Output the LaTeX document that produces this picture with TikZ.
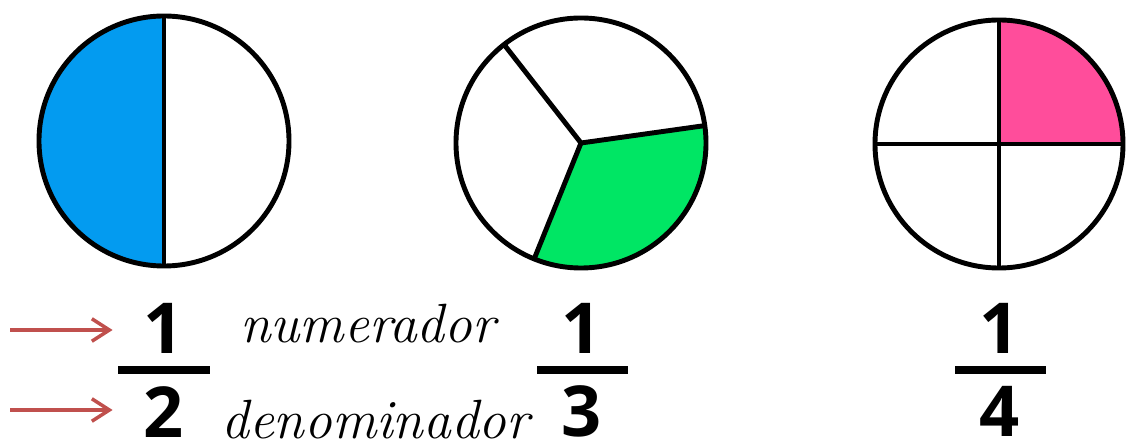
\documentclass[tikz,border=0pt]{standalone}
\usepackage{fontspec}
\newfontfamily\digitfont{Open Sans}
\usetikzlibrary{positioning,arrows.meta}
\definecolor{halfblue}{RGB}{3,155,240}
\definecolor{thirdgreen}{RGB}{0,230,100}
\definecolor{quarterpink}{RGB}{255,77,155}
\definecolor{arrowred}{RGB}{192,80,77}

\begin{document}
\begin{tikzpicture}[
  x=0.02cm, y=0.02cm,
  rim/.style={line width=2.8pt, line join=round},
  digit/.style={font=\digitfont\bfseries\fontsize{40}{40}\selectfont, inner sep=0pt},
  bar/.style={line width=4pt},
  pointer/.style={-{Straight Barb[length=3.5mm,width=4.5mm]}, line width=2pt, arrowred},
  term/.style={font=\itshape\fontsize{31.5}{31.5}\selectfont, inner sep=0pt},
]
  \useasboundingbox (0,0) rectangle (1130,443);

  % one half
  \coordinate (C1) at (164,302);
  \fill[halfblue] (C1) ++(0,125) arc[start angle=90, end angle=270, radius=125] -- cycle;
  \draw[rim] (C1) circle[radius=125];
  \draw[rim] (C1) ++(0,125) -- ++(0,-250);

  % one third
  \coordinate (C2) at (581,300);
  \fill[thirdgreen] (C2) -- ++(-112:125) arc[start angle=-112, end angle=8, radius=125] -- cycle;
  \draw[rim] (C2) circle[radius=125];
  \draw[rim] (C2) -- ++(8:125);
  \draw[rim] (C2) -- ++(128:125);
  \draw[rim] (C2) -- ++(248:125);

  % one quarter
  \coordinate (C3) at (999,299);
  \fill[quarterpink] (C3) -- ++(0:124) arc[start angle=0, end angle=90, radius=124] -- cycle;
  \draw[rim] (C3) circle[radius=124];
  \draw[rim] (C3) ++(0,124) -- ++(0,-248);
  \draw[rim] (C3) ++(-124,0) -- ++(248,0);

  % fractions
  \node[digit] (num1) at (164,115) {1};
  \node[digit] (den1) at (164,31) {2};
  \draw[bar] (118,73) -- (210,73);

  \node[digit] (num2) at (582,115) {1};
  \node[digit] (den2) at (582,32) {3};
  \draw[bar] (537,73) -- (628,73);

  \node[digit] (num3) at (1000,115) {1};
  \node[digit] (den3) at (1000,32) {4};
  \draw[bar] (955,73) -- (1046,73);

  % labels
  \node[term, anchor=base west] (numlabel) at (240,100) {numerador};
  \node[term, anchor=base west] (denlabel) at (221,4) {denominador};

  % pointers
  \coordinate (tail1) at (10,113);
  \coordinate (tail2) at (10,33);
  \draw[pointer, shorten >=0.62cm] (tail1) -- (tail1 -| num1.west);
  \draw[pointer, shorten >=0.62cm] (tail2) -- (tail2 -| den1.west);
\end{tikzpicture}
\end{document}
